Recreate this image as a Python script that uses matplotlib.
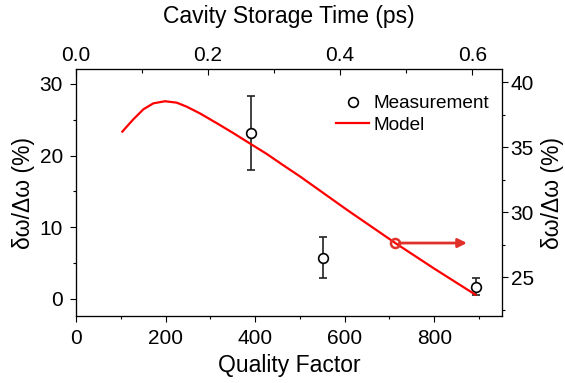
import matplotlib
matplotlib.use("Agg")
import matplotlib.pyplot as plt
from matplotlib.lines import Line2D

plt.rcParams['font.family'] = ['Liberation Sans', 'DejaVu Sans']

# ---- data ----
meas_q = [391, 551, 893]
meas_val = [23.1, 5.75, 1.68]
meas_err_low = [5.17, 2.82, 1.16]
meas_err_high = [5.15, 2.91, 1.17]

model_q = [103.5, 113.2, 128.1, 150.5, 172.8, 198.9, 225, 247.3, 277, 314.4, 351.6,
           391, 426, 463.3, 500.6, 605, 713, 800, 892]
model_val = [36.20, 36.58, 37.15, 37.92, 38.38, 38.54, 38.43, 38.12, 37.6, 36.85, 36.08,
             35.23, 34.48, 33.6, 32.74, 30.18, 27.62, 25.65, 23.64]

arrow_q = [713, 873]
arrow_val = 27.62

q_to_ps = 6.78e-4
xticks_bottom = [0, 200, 400, 600, 800]
xticks_top = [0.0, 0.2, 0.4, 0.6]
yticks_left = [0, 10, 20, 30]
yticks_right = [25, 30, 35, 40]

W, H = 565, 383
fig = plt.figure(figsize=(W / 100, H / 100), dpi=100)
L, R, T, B = 76, 502.3, 69.3, 316
ax = fig.add_axes([L / W, 1 - B / H, (R - L) / W, (B - T) / H])

xmax = 952
ax.set_xlim(0, xmax)
ax.set_ylim(-2.42, 32.05)

ax2 = ax.twinx()
ax2.set_ylim(22.0, 41.0)
ax3 = ax.twiny()
ax3.set_xlim(0, xmax * q_to_ps)

ax.errorbar(meas_q, meas_val, yerr=[meas_err_low, meas_err_high], fmt='o',
            mfc='white', mec='black', mew=1.2, ms=7, ecolor='#222222',
            elinewidth=1.2, capsize=2.8, capthick=1.2, color='black', zorder=5)

ax2.plot(model_q, model_val, color='#ff0000', lw=1.6, zorder=3)
ax2.plot([arrow_q[0]], [arrow_val], 'o', mfc='none', mec='#e0302a', mew=1.8, ms=6.5, zorder=4)
ax2.annotate('', xy=(arrow_q[1], arrow_val), xytext=(arrow_q[0], arrow_val),
             arrowprops=dict(arrowstyle='-|>', color='#e0302a', lw=2.0,
                             mutation_scale=13, shrinkA=3, shrinkB=0))

fs_tick = 15
fs_label = 16.5

ax.set_xticks(xticks_bottom)
ax.set_xticks([100, 300, 500, 700, 900], minor=True)
ax.set_yticks(yticks_left)
ax.set_yticks([5, 15, 25], minor=True)
ax2.set_yticks(yticks_right)
ax2.set_yticks([22.5, 27.5, 32.5, 37.5], minor=True)
ax3.set_xticks(xticks_top)
ax3.set_xticklabels(['0.0', '0.2', '0.4', '0.6'])
ax3.set_xticks([0.1, 0.3, 0.5], minor=True)

ax.tick_params(axis='x', which='major', direction='out', length=4.5, width=0.8, labelsize=fs_tick, pad=5)
ax.tick_params(axis='y', which='major', direction='out', length=4.5, width=0.8, labelsize=fs_tick, pad=5)
ax.tick_params(which='minor', direction='out', length=2.5, width=0.8)
ax2.tick_params(which='major', direction='out', length=4.5, width=0.8, labelsize=fs_tick, pad=1.5)
ax2.tick_params(which='minor', direction='out', length=2.5, width=0.8)
ax3.tick_params(which='major', direction='in', length=4.5, width=0.8, labelsize=fs_tick, pad=3)
ax3.tick_params(which='minor', direction='in', length=3, width=0.8)

for a in (ax, ax2, ax3):
    for s in a.spines.values():
        s.set_linewidth(0.8)

ax.set_xlabel('Quality Factor', fontsize=fs_label, labelpad=4)
ax.set_ylabel('δω/Δω (%)', fontsize=fs_label, labelpad=3)
ax2.set_ylabel('δω/Δω (%)', fontsize=fs_label, labelpad=5)
ax3.set_xlabel('Cavity Storage Time (ps)', fontsize=fs_label, labelpad=17)

h1 = Line2D([], [], marker='o', ls='none', mfc='white', mec='black', mew=1.2, ms=7)
h2 = Line2D([], [], color='#ff0000', lw=1.6)
ax2.legend([h1, h2], ['Measurement', 'Model'], loc='upper left',
           bbox_to_anchor=(336 / W, 1 - 95 / H), bbox_transform=fig.transFigure,
           frameon=False, fontsize=13.7, handlelength=1.75, handletextpad=0.2,
           labelspacing=0.23, borderpad=0, borderaxespad=0)

fig.savefig('out.png', dpi=100)
